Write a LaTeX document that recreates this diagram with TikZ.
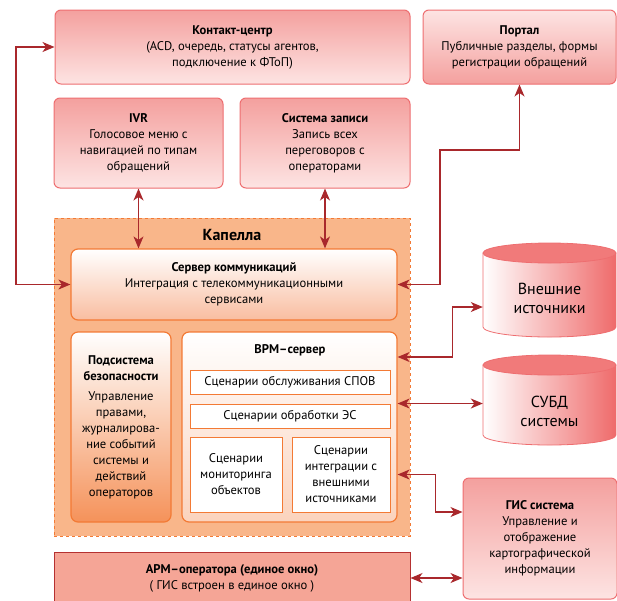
\documentclass[tikz,border=0pt]{standalone}
\usepackage{fontspec}
\setmainfont{PT Sans}
\usetikzlibrary{arrows.meta,calc}

\definecolor{boxpink}{HTML}{F4A09E}
\definecolor{boxpinklt}{HTML}{FDE4E3}
\definecolor{pinkline}{HTML}{EE6E70}
\definecolor{capfill}{HTML}{F9B68A}
\definecolor{orline}{HTML}{F37A35}
\definecolor{srvbot}{HTML}{F9BDA0}
\definecolor{secbot}{HTML}{F5925A}
\definecolor{vrmbot}{HTML}{FBD3BD}
\definecolor{cylred}{HTML}{EF6B6B}
\definecolor{armfill}{HTML}{F5A596}
\definecolor{armline}{HTML}{B53131}
\definecolor{linkred}{HTML}{A9282C}

\begin{document}
\begin{tikzpicture}[x=1pt,y=-1pt,font=\fontsize{12.6}{16}\selectfont,
    pinkbox/.style={draw=pinkline,line width=1pt,rounded corners=6pt,top color=boxpink,bottom color=boxpinklt,align=center,inner sep=0pt},
    pinkboxup/.style={pinkbox,top color=boxpinklt,bottom color=boxpink},
    capbox/.style={draw=orline,line width=1pt,dashed,fill=capfill},
    srvbox/.style={draw=orline,line width=1.2pt,rounded corners=7pt,top color=white,bottom color=srvbot,align=center,inner sep=0pt},
    secbox/.style={srvbox,bottom color=secbot},
    vrmbox/.style={srvbox,bottom color=vrmbot},
    scenbox/.style={draw=orline,line width=1pt,fill=white,align=center,inner sep=0pt},
    cyltext/.style={align=center,inner sep=0pt,font=\fontsize{16}{19}\selectfont},
    armbox/.style={draw=armline,line width=1pt,fill=armfill,align=center,inner sep=0pt},
    link/.style={draw=linkred,line width=1.2pt,{Stealth[length=12pt,width=10pt,inset=3.5pt]}-{Stealth[length=12pt,width=10pt,inset=3.5pt]}}]

  \useasboundingbox (0,0) rectangle (617,600);

  % upper row
  \path (232.5,47) node[pinkbox,minimum width=355,minimum height=74] (kc)
    {\textbf{Контакт-центр}\\(ACD, очередь, статусы агентов,\\подключение к ФТоП)};
  \path (519.5,47) node[pinkboxup,minimum width=193,minimum height=74] (portal)
    {\textbf{Портал}\\Публичные разделы, формы\\регистрации обращений};
  \path (138.5,143) node[pinkbox,minimum width=169,minimum height=90] (ivr)
    {\textbf{IVR}\\Голосовое меню с\\навигацией по типам\\обращений};
  \path (325,143) node[pinkbox,minimum width=170,minimum height=90] (rec)
    {\textbf{Система записи}\\Запись всех\\переговоров с\\операторами};

  % Капелла
  \path (232,377) node[capbox,minimum width=356,minimum height=318] (cap) {};
  \path (232,235) node[font=\fontsize{16}{18}\selectfont\bfseries] (captitle) {Капелла};
  \path (234,284.5) node[srvbox,minimum width=326,minimum height=71] (srv)
    {\textbf{Сервер коммуникаций}\\Интеграция с телекоммуникационными\\сервисами};
  \path (121,427) node[secbox,minimum width=100,minimum height=190] (sec)
    {\textbf{Подсистема}\\\textbf{безопасности}\\[4pt]Управление\\правами,\\журналирова-\\ние событий\\системы и\\действий\\операторов};
  \path (289.5,427) node[vrmbox,minimum width=215,minimum height=190] (vrm) {};
  \path (290,350) node[font=\fontsize{12.6}{16}\selectfont\bfseries] (vrmtitle) {ВРМ–сервер};
  \path (290,382) node[scenbox,minimum width=200,minimum height=24] (spov) {Сценарии обслуживания СПОВ};
  \path (290,416) node[scenbox,minimum width=200,minimum height=24] (es) {Сценарии обработки ЭС};
  \path (236,474.5) node[scenbox,minimum width=92,minimum height=75] (mon)
    {Сценарии\\мониторинга\\объектов};
  \path (341,474.5) node[scenbox,minimum width=98,minimum height=75] (integ)
    {Сценарии\\интеграции с\\внешними\\источниками};

  % хранилища
  \shadedraw[left color=white,right color=cylred,draw=pinkline,line width=0.8pt]
    (483,253) -- (483,327) arc[start angle=180,end angle=360,x radius=66.5pt,y radius=10pt] -- (616,253) -- cycle;
  \filldraw[fill=cylred!90,draw=pinkline,line width=0.8pt] (549.5,253) ellipse[x radius=66.5pt,y radius=10pt];
  \path (549.5,298) node[cyltext,minimum width=133] (ext) {Внешние\\источники};
  \shadedraw[left color=white,right color=cylred,draw=pinkline,line width=0.8pt]
    (483,365) -- (483,435) arc[start angle=180,end angle=360,x radius=66.5pt,y radius=10pt] -- (616,365) -- cycle;
  \filldraw[fill=cylred!90,draw=pinkline,line width=0.8pt] (549.5,365) ellipse[x radius=66.5pt,y radius=10pt];
  \path (549.5,411) node[cyltext,minimum width=133] (dbs) {СУБД\\системы};

  \path (540,538.5) node[pinkbox,minimum width=154,minimum height=121] (gis)
    {\textbf{ГИС система}\\Управление и\\отображение\\картографической\\информации};
  \path (232,578) node[armbox,minimum width=356,minimum height=52] (arm)
    {\textbf{АРМ–оператора (единое окно)}\\( ГИС встроен в единое окно )};

  % связи
  \draw[link] (kc.west) -- (16,47) |- (srv.west);
  \draw[link] (ivr.south) -- (ivr.south |- srv.north);
  \draw[link] (rec.south) -- (rec.south |- srv.north);
  \draw[link] (portal.south) |- (440,150) |- (srv.east);
  \draw[link] ([yshift=70pt]vrm.east) -- ++(55,0) |- ([yshift=-9pt]ext.west);
  \draw[link] (vrm.east |- es.north) -- (dbs.west |- es.north);
  \draw[link] (vrm.east |- integ.east) -- ++(38,0) |- ([yshift=26.5pt]gis.west);
  \draw[link] (arm.east) -- (gis.west |- arm.east);

\end{tikzpicture}
\end{document}
